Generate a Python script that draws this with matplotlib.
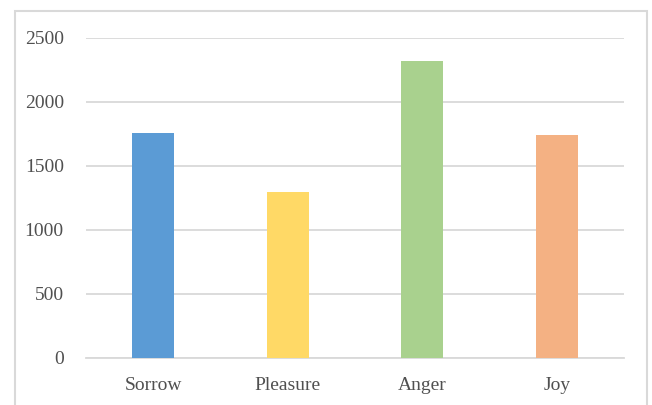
import matplotlib
matplotlib.use("Agg")
import matplotlib.pyplot as plt
from matplotlib.patches import Rectangle

categories = ["Sorrow", "Pleasure", "Anger", "Joy"]
values = [1755, 1298, 2315, 1741]
colors = ["#5B9BD5", "#FFD966", "#A9D18E", "#F4B183"]
yticks = [0, 500, 1000, 1500, 2000, 2500]

plt.rcParams['font.family'] = ['Liberation Serif', 'DejaVu Serif']

fig = plt.figure(figsize=(6.52, 4.05), dpi=100)
ax = fig.add_axes([86/652, 1-358/405, (624-86)/652, (358-37.5)/405])

x = range(len(categories))
ax.bar(x, values, width=0.31, color=colors, zorder=3)
ax.set_xlim(-0.5, len(categories)-0.5)
ax.set_ylim(0, 2500)
ax.set_yticks(yticks)
ax.set_yticklabels([str(v) for v in yticks])
ax.set_xticks(list(x))
ax.set_xticklabels(categories)
ax.grid(axis='y', color='#D9D9D9', linewidth=1.3, zorder=0)
for s in ['top', 'right', 'left']:
    ax.spines[s].set_visible(False)
ax.spines['bottom'].set_color('#D9D9D9')
ax.spines['bottom'].set_linewidth(1.3)
ax.tick_params(axis='both', length=0, labelsize=14, colors='#505050')
ax.tick_params(axis='y', pad=16)
ax.tick_params(axis='x', pad=14)

fig.patches.append(Rectangle((15/652, -0.1), (647-15)/652, 1.1 - 11/405,
                             transform=fig.transFigure, fill=False,
                             edgecolor='#D9D9D9', linewidth=1.5, clip_on=False))

fig.savefig("out.png", dpi=100)
